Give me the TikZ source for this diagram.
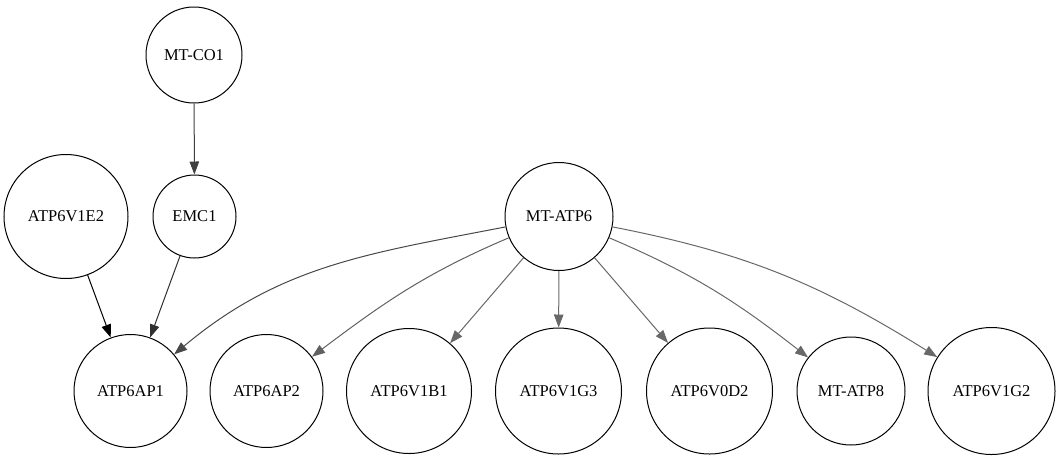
\documentclass[tikz,border=0pt]{standalone}
\usepackage{fontspec}
\setmainfont{Liberation Serif}
\usetikzlibrary{arrows.meta}
\definecolor{eA}{HTML}{000000}
\definecolor{eB}{HTML}{303030}
\definecolor{eC}{HTML}{404040}
\definecolor{eD}{HTML}{484848}
\definecolor{eE}{HTML}{606060}
\definecolor{eF}{HTML}{686868}
\begin{document}
\begin{tikzpicture}[x=1pt,y=1pt,
  gnode/.style={circle,draw=black,line width=1pt,inner sep=0pt,font=\fontsize{16.5}{19}\selectfont},
  edge/.style={line width=1pt,-{Triangle[length=13pt,width=9.5pt]}}]
\useasboundingbox (0,0) rectangle (1060,-461);
\node[gnode,minimum size=96pt]  (mtco1)   at (194,-55)    {MT-CO1};
\node[gnode,minimum size=83pt]  (emc1)    at (194.5,-216.5) {EMC1};
\node[gnode,minimum size=124pt] (v1e2)    at (66,-216.5)  {ATP6V1E2};
\node[gnode,minimum size=108pt] (mtatp6)  at (559,-216.5) {MT-ATP6};
\node[gnode,minimum size=113pt] (ap1)     at (130.5,-391) {ATP6AP1};
\node[gnode,minimum size=113pt] (ap2)     at (266.5,-391) {ATP6AP2};
\node[gnode,minimum size=125pt] (v1b1)    at (409,-391)   {ATP6V1B1};
\node[gnode,minimum size=126pt] (v1g3)    at (558.5,-391) {ATP6V1G3};
\node[gnode,minimum size=126pt] (v0d2)    at (709.5,-391) {ATP6V0D2};
\node[gnode,minimum size=108pt] (mtatp8)  at (851,-391)   {MT-ATP8};
\node[gnode,minimum size=127pt] (v1g2)    at (991.5,-391) {ATP6V1G2};

\draw[edge,draw=eC] (mtco1) -- (emc1);
\draw[edge,draw=eA] (v1e2) -- (ap1);
\draw[edge,draw=eB] (emc1) -- (ap1);
\draw[edge,draw=eD] (mtatp6) to[out=191,in=40] (ap1);
\draw[edge,draw=eE] (mtatp6) to[out=203,in=37] (ap2);
\draw[edge,draw=eF] (mtatp6) -- (v1b1);
\draw[edge,draw=eF] (mtatp6) -- (v1g3);
\draw[edge,draw=eF] (mtatp6) -- (v0d2);
\draw[edge,draw=eF] (mtatp6) to[out=-23,in=142] (mtatp8);
\draw[edge,draw=eF] (mtatp6) to[out=-11,in=148] (v1g2);
\end{tikzpicture}
\end{document}
